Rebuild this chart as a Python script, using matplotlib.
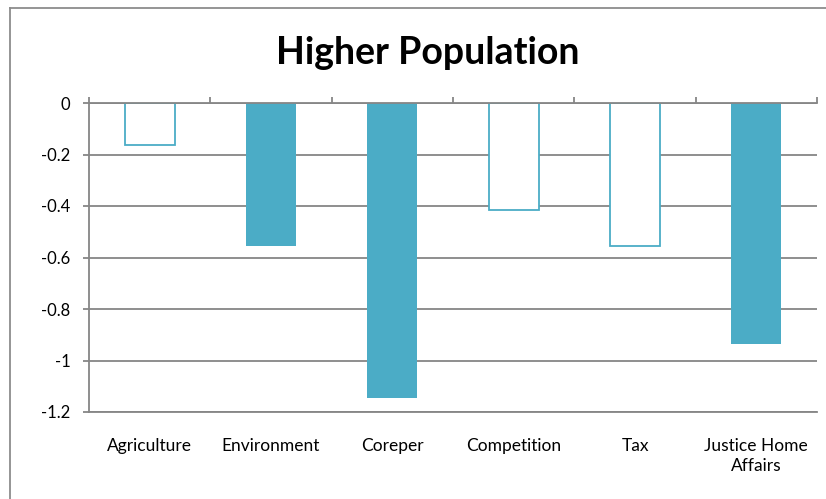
import matplotlib
matplotlib.use("Agg")
import matplotlib.pyplot as plt
from matplotlib.lines import Line2D

categories = ["Agriculture", "Environment", "Coreper", "Competition", "Tax", "Justice Home\nAffairs"]
values = [-0.163, -0.557, -1.145, -0.415, -0.555, -0.936]
filled = [False, True, True, False, False, True]
yticks = [0, -0.2, -0.4, -0.6, -0.8, -1, -1.2]
ytick_labels = ["0", "-0.2", "-0.4", "-0.6", "-0.8", "-1", "-1.2"]
title = "Higher Population"

plt.rcParams['font.family'] = ['Lato', 'DejaVu Sans']
W, H = 826, 499
fig = plt.figure(figsize=(W / 100, H / 100), dpi=100)
ax = fig.add_axes([89 / W, 1 - 412 / H, (817 - 89) / W, (412 - 103) / H])

bar_color = "#4BACC6"
grid_color = "#868686"
x = list(range(len(categories)))
for xi, v, f in zip(x, values, filled):
    if f:
        ax.bar(xi, v, width=0.41, color=bar_color, edgecolor=bar_color, linewidth=0, zorder=3)
    else:
        ax.bar(xi, v, width=0.41, facecolor="white", edgecolor=bar_color, linewidth=1.3, zorder=3)

ax.set_xlim(-0.5, len(categories) - 0.5)
ax.set_ylim(-1.2, 0)
ax.set_yticks(yticks)
ax.set_yticklabels(ytick_labels, fontsize=12)
ax.set_xticks(x)
ax.set_xticklabels(categories, fontsize=12.5, linespacing=1.3)
ax.tick_params(axis='x', which='major', length=0, pad=19, bottom=True)
ax.set_xticks([i - 0.5 for i in range(len(categories) + 1)], minor=True)
ax.tick_params(axis='x', which='minor', top=True, bottom=False, direction='out', length=4.3, width=1.3, color=grid_color)
ax.tick_params(axis='y', direction='out', length=4.3, width=1.3, color=grid_color, pad=9)

ax.yaxis.grid(True, color=grid_color, linewidth=1.3, zorder=0)
ax.set_axisbelow(True)
for s in ['top', 'left', 'bottom']:
    ax.spines[s].set_color(grid_color)
    ax.spines[s].set_linewidth(1.3)
    ax.spines[s].set_zorder(4)
ax.spines['right'].set_visible(False)

fig.text(428 / W, 1 - 64 / H, title, ha='center', va='baseline', fontsize=27, fontweight='bold')

# outer chart frame (left and top edges visible)
fig.add_artist(Line2D([10 / W, 10 / W], [0, 1 - 8 / H], transform=fig.transFigure, color="#8c8c8c", linewidth=1.3))
fig.add_artist(Line2D([10 / W, 1], [1 - 8 / H, 1 - 8 / H], transform=fig.transFigure, color="#8c8c8c", linewidth=1.3))

fig.savefig("out.png", dpi=100)
